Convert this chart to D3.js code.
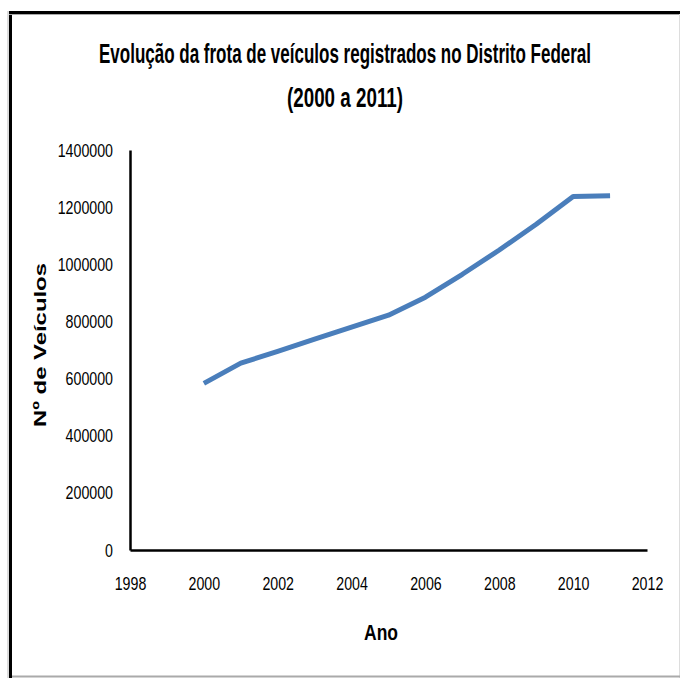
<!DOCTYPE html>
<html><head><meta charset="utf-8">
<script src="https://cdn.jsdelivr.net/npm/d3@7"></script>
<style>html,body{margin:0;padding:0;background:#fff;}svg{display:block;}</style>
</head><body>
<script>
const years = [2000,2001,2002,2003,2004,2005,2006,2007,2008,2009,2010,2011];
const vehicles = [583000,654000,695000,738000,780000,822000,885000,965000,1050000,1140000,1237000,1240000];
const yTicks = [0,200000,400000,600000,800000,1000000,1200000,1400000];
const xTicks = [1998,2000,2002,2004,2006,2008,2010,2012];
const titleLines = ["Evolução da frota de veículos registrados no Distrito Federal","(2000 a 2011)"];
const xTitle = "Ano", yTitle = "Nº de Veículos";

const W=680,H=678;
const svg=d3.select("body").append("svg").attr("width",W).attr("height",H);
svg.append("rect").attr("width",W).attr("height",H).attr("fill","#fff");
// frame
svg.append("line").attr("x1",8).attr("x2",8).attr("y1",11).attr("y2",H).attr("stroke","#bbb").attr("stroke-width",1);
svg.append("line").attr("x1",10.5).attr("x2",10.5).attr("y1",11).attr("y2",H).attr("stroke","#000").attr("stroke-width",3);
svg.append("line").attr("x1",9).attr("x2",W).attr("y1",12.5).attr("y2",12.5).attr("stroke","#000").attr("stroke-width",3);
svg.append("line").attr("x1",9).attr("x2",W).attr("y1",14.5).attr("y2",14.5).attr("stroke","#aaa").attr("stroke-width",1);
svg.append("line").attr("x1",679.5).attr("x2",679.5).attr("y1",14).attr("y2",H).attr("stroke","#ddd").attr("stroke-width",1);
svg.append("line").attr("x1",12).attr("x2",W).attr("y1",676.5).attr("y2",676.5).attr("stroke","#aaa").attr("stroke-width",2);

const narrow='"Liberation Sans Narrow","Arial Narrow","Liberation Sans",sans-serif';
const x=d3.scaleLinear().domain([1998,2012]).range([130,647]);
const y=d3.scaleLinear().domain([0,1400000]).range([550,150]);

// title (vertically stretched narrow bold)
[[titleLines[0],63,492],[titleLines[1],107,116]].forEach(([t,by,len])=>{
  svg.append("g").attr("transform",`translate(345,${by}) scale(1,1.42)`)
    .append("text").attr("x",0).attr("y",0).attr("text-anchor","middle")
    .attr("font-family",narrow).attr("font-weight","bold").attr("font-size",19)
    .attr("textLength",len).attr("lengthAdjust","spacingAndGlyphs").text(t);
});

// axes
const ya=svg.append("g").attr("transform","translate(130,0)")
  .call(d3.axisLeft(y).tickValues(yTicks).tickSize(0).tickPadding(17).tickFormat(d3.format("d")));
const xa=svg.append("g").attr("transform","translate(0,550)")
  .call(d3.axisBottom(x).tickValues(xTicks).tickSize(0).tickPadding(27).tickFormat(d3.format("d")));
[ya,xa].forEach(a=>{
  a.select(".domain").attr("stroke","#000").attr("stroke-width",2.5);
  a.selectAll("text").attr("font-family",narrow).attr("font-size",19).attr("fill","#000")
   .attr("lengthAdjust","spacingAndGlyphs").attr("textLength",function(){return this.textContent.length*7.9;});
});

// line
svg.append("path").datum(years.map((d,i)=>[d,vehicles[i]]))
  .attr("fill","none").attr("stroke","#4a7ebb").attr("stroke-width",5)
  .attr("stroke-linejoin","round")
  .attr("d",d3.line().x(d=>x(d[0])).y(d=>y(d[1])));

// axis titles
svg.append("text").attr("x",381).attr("y",640).attr("text-anchor","middle")
  .attr("font-family",narrow).attr("font-weight","bold").attr("font-size",22)
  .attr("textLength",34).attr("lengthAdjust","spacingAndGlyphs").text(xTitle);
svg.append("text").attr("transform","translate(46,345) rotate(-90)").attr("text-anchor","middle")
  .attr("font-family",'"Liberation Sans",Arial,sans-serif').attr("font-weight","bold").attr("font-size",17)
  .attr("textLength",164).attr("lengthAdjust","spacingAndGlyphs").text(yTitle);
</script>
</body></html>
